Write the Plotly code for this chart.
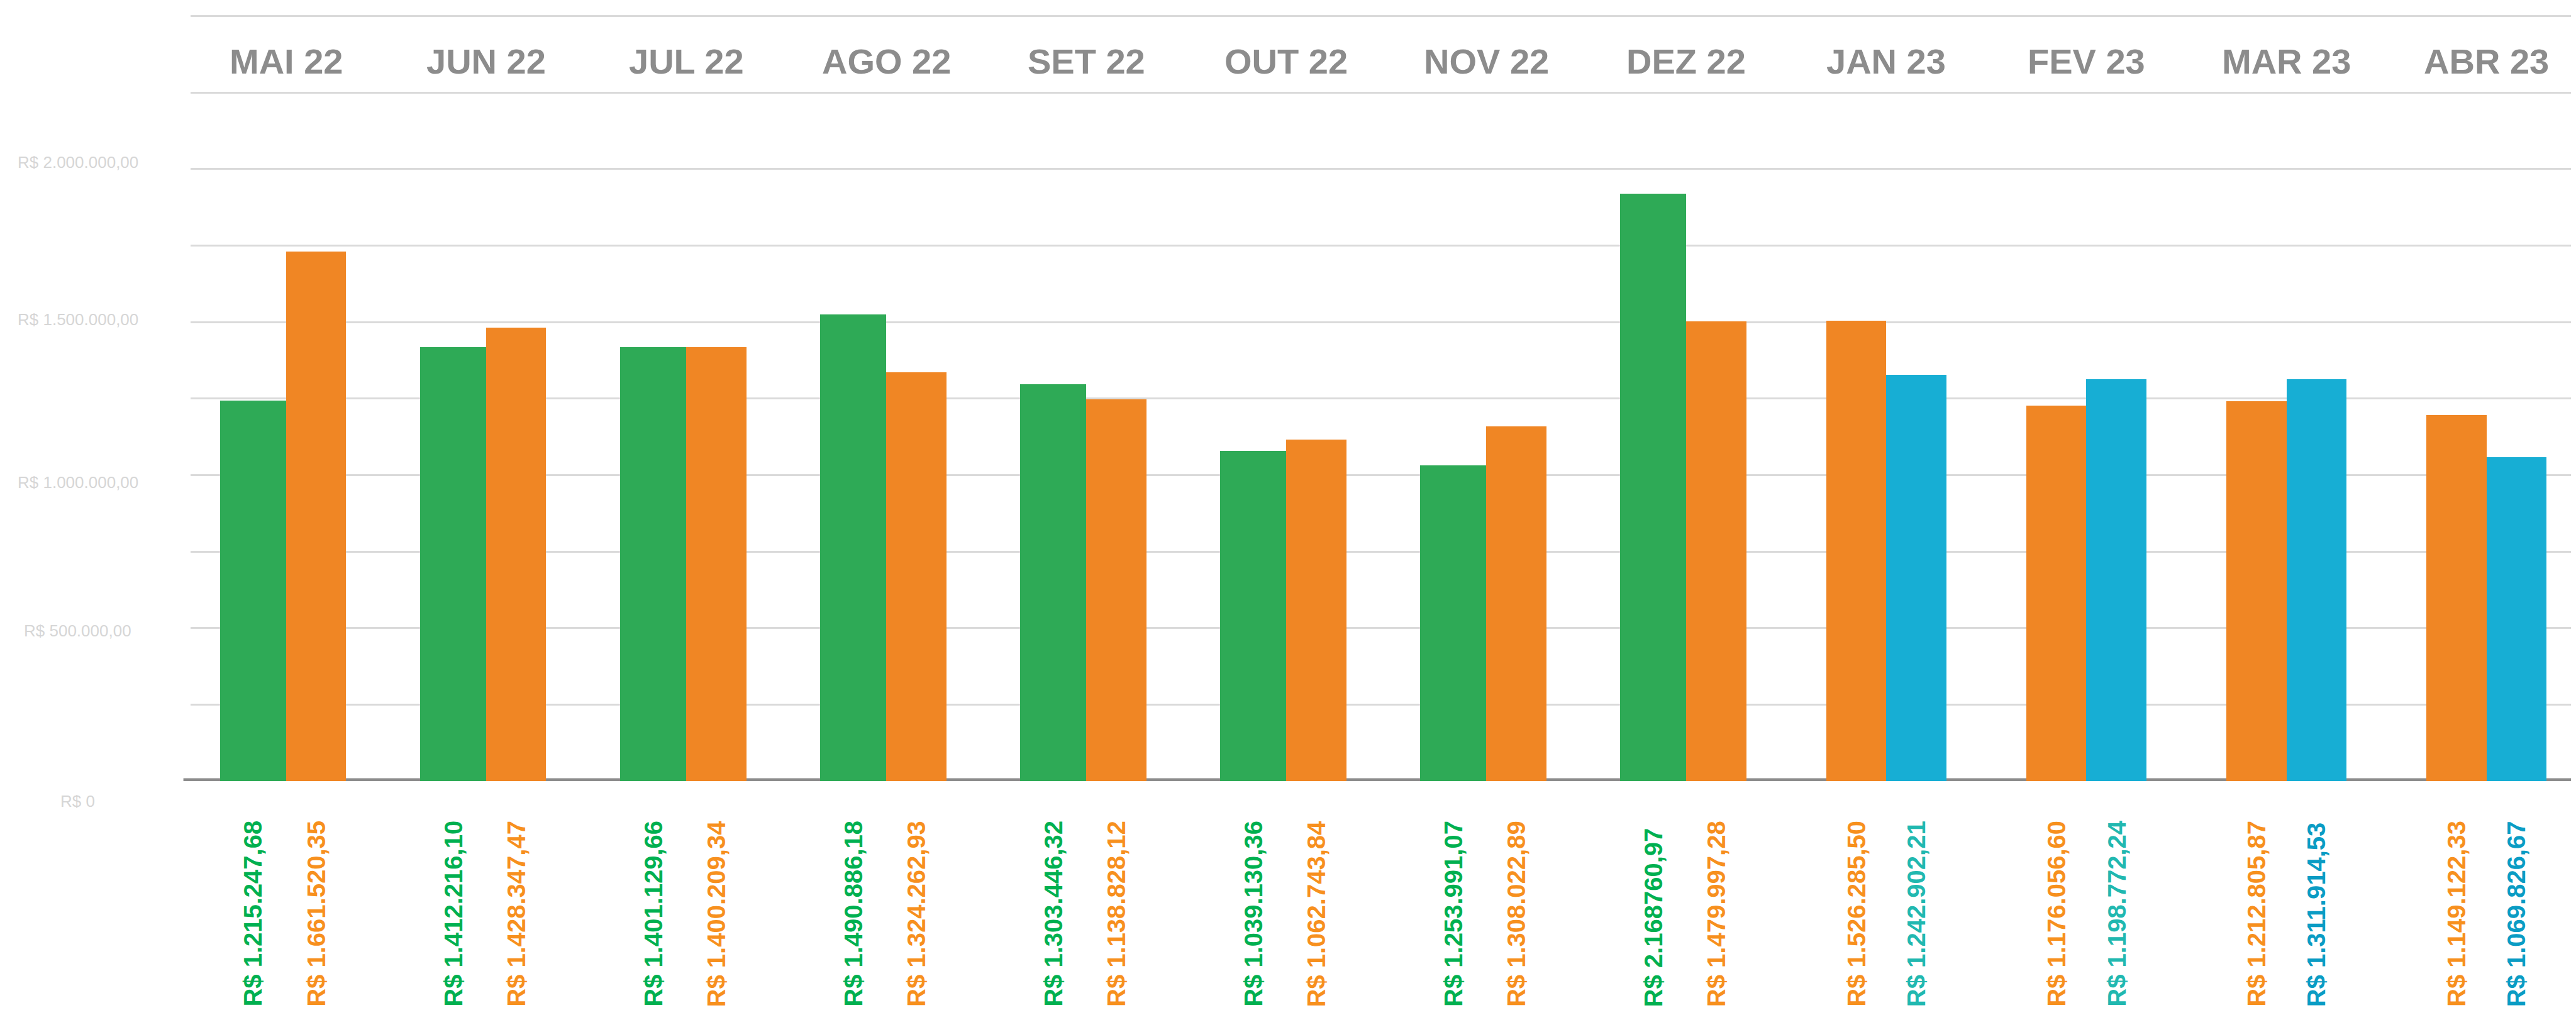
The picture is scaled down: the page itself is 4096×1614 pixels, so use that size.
import plotly.graph_objects as go

# ---------------- data ----------------
months = ["MAI 22", "JUN 22", "JUL 22", "AGO 22", "SET 22", "OUT 22",
          "NOV 22", "DEZ 22", "JAN 23", "FEV 23", "MAR 23", "ABR 23"]

# bar heights (R$)
left_values = [1244000, 1419000, 1419000, 1524000, 1297000, 1078000,
               1031000, 1919000, 1505000, 1226000, 1242000, 1197000]
right_values = [1730000, 1481000, 1419000, 1336000, 1248000, 1116000,
                1159000, 1503000, 1327000, 1313000, 1313000, 1058000]

# printed value labels under the bars
left_labels = ["R$ 1.215.247,68", "R$ 1.412.216,10", "R$ 1.401.129,66", "R$ 1.490.886,18",
               "R$ 1.303.446,32", "R$ 1.039.130,36", "R$ 1.253.991,07", "R$ 2.168760,97",
               "R$ 1.526.285,50", "R$ 1.176.056,60", "R$ 1.212.805,87", "R$ 1.149.122,33"]
right_labels = ["R$ 1.661.520,35", "R$ 1.428.347,47", "R$ 1.400.209,34", "R$ 1.324.262,93",
                "R$ 1.138.828,12", "R$ 1.062.743,84", "R$ 1.308.022,89", "R$ 1.479.997,28",
                "R$ 1.242.902,21", "R$ 1.198.772,24", "R$ 1.311.914,53", "R$ 1.069.826,67"]

# series each bar belongs to
left_series = ["g"] * 8 + ["o"] * 4
right_series = ["o"] * 8 + ["b"] * 4
right_text_series = ["o"] * 8 + ["t", "t", "b", "b"]

y_tick_vals = [0, 500000, 1000000, 1500000, 2000000]
y_tick_text = ["R$ 0", "R$ 500.000,00", "R$ 1.000.000,00", "R$ 1.500.000,00", "R$ 2.000.000,00"]
month_label_level = 2352000

# ---------------- styles ----------------
BAR_COL = {"g": "#2eaa56", "o": "#f08624", "b": "#17aed4"}
TXT_COL = {"g": "#00b050", "o": "#f7901e", "t": "#21b8b0", "b": "#0a9cc4"}
W_LEFT = {"g": 0.33, "o": 0.30}
W_RIGHT = 0.30

FONT = "Liberation Sans, Arial, sans-serif"

x_idx = list(range(len(months)))
left_w = [W_LEFT[s] for s in left_series]

fig = go.Figure()
fig.add_trace(go.Bar(
    x=x_idx, y=left_values, width=left_w, offset=[-w for w in left_w],
    marker=dict(color=[BAR_COL[s] for s in left_series], line=dict(width=0)),
    showlegend=False, hoverinfo="skip"))
fig.add_trace(go.Bar(
    x=x_idx, y=right_values, width=W_RIGHT, offset=0,
    marker=dict(color=[BAR_COL[s] for s in right_series], line=dict(width=0)),
    showlegend=False, hoverinfo="skip"))

ann = []
# month labels at top
for i, m in enumerate(months):
    ann.append(dict(x=i, y=month_label_level, xref="x", yref="y", text=f"<b>{m}</b>",
                    showarrow=False, xanchor="center", yanchor="middle",
                    font=dict(family=FONT, size=56, color="#8c8c8c")))
# value labels under bars
LAB_Y = -0.2933
for i in x_idx:
    lc = i - left_w[i] / 2
    rc = i + W_RIGHT / 2
    ann.append(dict(x=lc, y=LAB_Y, xref="x", yref="paper", text=f"<b>{left_labels[i]}</b>",
                    textangle=-90, showarrow=False, xanchor="center", yanchor="bottom",
                    font=dict(family=FONT, size=40, color=TXT_COL[left_series[i]])))
    ann.append(dict(x=rc, y=LAB_Y, xref="x", yref="paper", text=f"<b>{right_labels[i]}</b>",
                    textangle=-90, showarrow=False, xanchor="center", yanchor="bottom",
                    font=dict(family=FONT, size=40, color=TXT_COL[right_text_series[i]])))
# y tick labels (slightly offset from gridlines as in the original)
y_shifts = [-32, -4, -12, 4, 11]
for v, t, s in zip(y_tick_vals, y_tick_text, y_shifts):
    ann.append(dict(x=-0.0471, y=v, xref="paper", yref="y", text=t, yshift=s,
                    showarrow=False, xanchor="center", yanchor="middle",
                    font=dict(family=FONT, size=26, color="#d6d6d6")))

fig.update_layout(
    width=4096, height=1614,
    margin=dict(l=295, r=0, t=3, b=380),
    paper_bgcolor="white", plot_bgcolor="white",
    bargap=0, barmode="overlay",
    annotations=ann,
    shapes=[dict(type="line", xref="paper", yref="y", x0=-0.003, x1=1, y0=0, y1=0,
                 line=dict(color="#8c8c8c", width=9), layer="below")],
    xaxis=dict(range=[-0.478, 11.473], showticklabels=False, showgrid=False,
               zeroline=False, showline=False, ticks=""),
    yaxis=dict(range=[0, 2530000], tick0=0, dtick=250000, showticklabels=False,
               showgrid=True, gridcolor="#dadada", gridwidth=2.5,
               zeroline=False, showline=False, ticks=""),
)

fig.write_html("out.html")
